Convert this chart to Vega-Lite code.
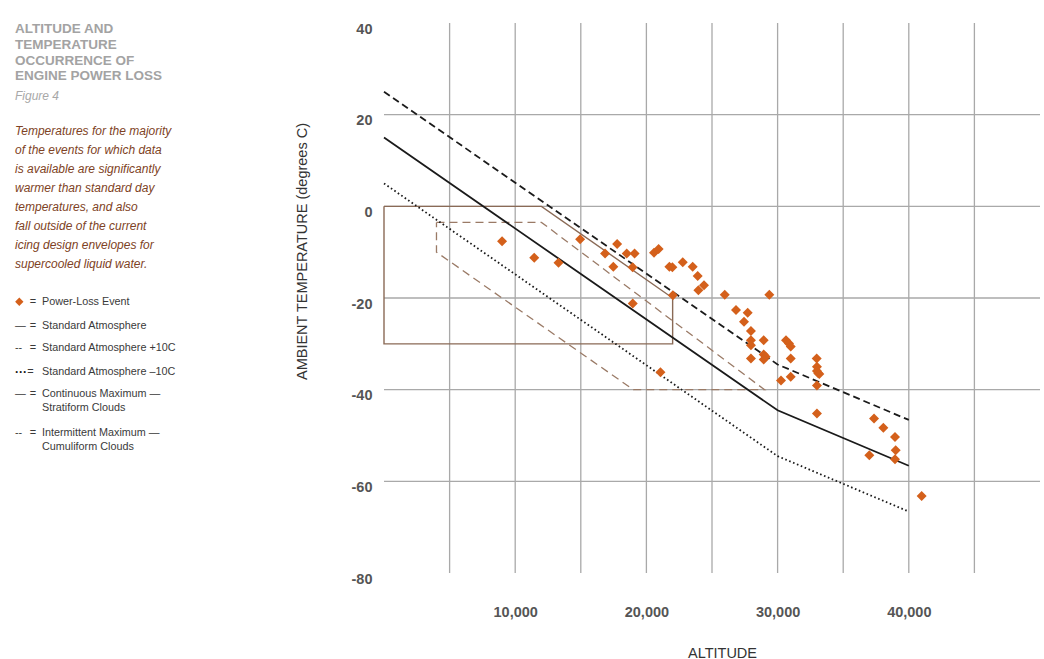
{
  "$schema": "https://vega.github.io/schema/vega-lite/v6.json",
  "background": "white",
  "padding": {"left": 15, "top": 21, "right": 0, "bottom": 0},
  "spacing": 179,
  "bounds": "flush",
  "config": {"view": {"stroke": null}},
  "datasets": {
    "leftText": [
      {"t": "ALTITUDE AND", "x": 0, "y": 6, "k": "title"},
      {"t": "TEMPERATURE", "x": 0, "y": 22, "k": "title"},
      {"t": "OCCURRENCE OF", "x": 0, "y": 37.7, "k": "title"},
      {"t": "ENGINE POWER LOSS", "x": 0, "y": 53, "k": "title"},
      {"t": "Figure 4", "x": 0, "y": 73, "k": "fig"},
      {"t": "Temperatures for the majority", "x": 0, "y": 108, "k": "para"},
      {"t": "of the events for which data", "x": 0, "y": 127, "k": "para"},
      {"t": "is available are significantly", "x": 0, "y": 146, "k": "para"},
      {"t": "warmer than standard day", "x": 0, "y": 165, "k": "para"},
      {"t": "temperatures, and also", "x": 0, "y": 184, "k": "para"},
      {"t": "fall outside of the current", "x": 0, "y": 203, "k": "para"},
      {"t": "icing design envelopes for", "x": 0, "y": 222, "k": "para"},
      {"t": "supercooled liquid water.", "x": 0, "y": 241, "k": "para"},
      {"t": "Power-Loss Event", "x": 27, "y": 278.7, "k": "leg"},
      {"t": "Standard Atmosphere", "x": 27, "y": 302.7, "k": "leg"},
      {"t": "Standard Atmosphere +10C", "x": 27, "y": 325.3, "k": "leg"},
      {"t": "Standard Atmosphere \u201310C", "x": 27, "y": 348.7, "k": "leg"},
      {"t": "Continuous Maximum \u2014", "x": 27, "y": 371.3, "k": "leg"},
      {"t": "Stratiform Clouds", "x": 27, "y": 385.3, "k": "leg"},
      {"t": "Intermittent Maximum \u2014", "x": 27, "y": 410.3, "k": "leg"},
      {"t": "Cumuliform Clouds", "x": 27, "y": 423.7, "k": "leg"},
      {"t": "=", "x": 18, "y": 278.7, "k": "eq"},
      {"t": "=", "x": 18, "y": 302.7, "k": "eq"},
      {"t": "=", "x": 18, "y": 325.3, "k": "eq"},
      {"t": "=", "x": 15.5, "y": 348.7, "k": "eq"},
      {"t": "=", "x": 18, "y": 371.3, "k": "eq"},
      {"t": "=", "x": 18, "y": 410.3, "k": "eq"},
      {"t": "\u2014", "x": 0, "y": 302.7, "k": "sym"},
      {"t": "--", "x": 0, "y": 325.3, "k": "sym"},
      {"t": "\u2014", "x": 0, "y": 371.3, "k": "sym"},
      {"t": "--", "x": 0, "y": 410.3, "k": "sym"},
      {"t": "\u00b7\u00b7\u00b7", "x": 0, "y": 348.7, "k": "dots"}
    ],
    "leftPts": [{"x": 4.3, "y": 278.7}],
    "vgrid": [
      {"alt": 5000, "temp": -80, "temp2": 40},
      {"alt": 10000, "temp": -80, "temp2": 40},
      {"alt": 15000, "temp": -80, "temp2": 40},
      {"alt": 20000, "temp": -80, "temp2": 40},
      {"alt": 25000, "temp": -80, "temp2": 40},
      {"alt": 30000, "temp": -80, "temp2": 40},
      {"alt": 35000, "temp": -80, "temp2": 40},
      {"alt": 40000, "temp": -80, "temp2": 40},
      {"alt": 45000, "temp": -80, "temp2": 40}
    ],
    "hgrid": [
      {"alt": 0, "alt2": 50000, "temp": 20},
      {"alt": 0, "alt2": 50000, "temp": 0},
      {"alt": 0, "alt2": 50000, "temp": -20},
      {"alt": 0, "alt2": 50000, "temp": -40},
      {"alt": 0, "alt2": 50000, "temp": -60}
    ],
    "lines": [
      {"s": "std", "i": 0, "alt": 0, "temp": 15},
      {"s": "std", "i": 1, "alt": 30000, "temp": -44.5},
      {"s": "std", "i": 2, "alt": 40000, "temp": -56.6},
      {"s": "p10", "i": 0, "alt": 0, "temp": 25},
      {"s": "p10", "i": 1, "alt": 30000, "temp": -34.5},
      {"s": "p10", "i": 2, "alt": 40000, "temp": -46.6},
      {"s": "m10", "i": 0, "alt": 0, "temp": 5},
      {"s": "m10", "i": 1, "alt": 30000, "temp": -54.5},
      {"s": "m10", "i": 2, "alt": 40000, "temp": -66.6},
      {"s": "cont", "i": 0, "alt": 0, "temp": 0},
      {"s": "cont", "i": 1, "alt": 12000, "temp": 0},
      {"s": "cont", "i": 2, "alt": 22000, "temp": -20},
      {"s": "cont", "i": 3, "alt": 22000, "temp": -30},
      {"s": "cont", "i": 4, "alt": 0, "temp": -30},
      {"s": "cont", "i": 5, "alt": 0, "temp": 0},
      {"s": "inter", "i": 0, "alt": 4000, "temp": -3.5},
      {"s": "inter", "i": 1, "alt": 12000, "temp": -3.5},
      {"s": "inter", "i": 2, "alt": 29000, "temp": -40},
      {"s": "inter", "i": 3, "alt": 19000, "temp": -40},
      {"s": "inter", "i": 4, "alt": 4000, "temp": -10},
      {"s": "inter", "i": 5, "alt": 4000, "temp": -3.5}
    ],
    "pts": [
      {"alt": 9000, "temp": -7.6},
      {"alt": 11450, "temp": -11.2},
      {"alt": 13300, "temp": -12.3},
      {"alt": 14950, "temp": -7.2},
      {"alt": 16850, "temp": -10.3},
      {"alt": 17770, "temp": -8.2},
      {"alt": 18500, "temp": -10.3},
      {"alt": 19100, "temp": -10.3},
      {"alt": 17480, "temp": -13.2},
      {"alt": 18950, "temp": -13.3},
      {"alt": 20580, "temp": -10.1},
      {"alt": 20930, "temp": -9.3},
      {"alt": 21750, "temp": -13.2},
      {"alt": 21980, "temp": -13.3},
      {"alt": 22770, "temp": -12.2},
      {"alt": 23530, "temp": -13.2},
      {"alt": 23910, "temp": -15.2},
      {"alt": 23960, "temp": -18.3},
      {"alt": 24390, "temp": -17.2},
      {"alt": 22020, "temp": -19.4},
      {"alt": 18960, "temp": -21.2},
      {"alt": 21070, "temp": -36.2},
      {"alt": 25970, "temp": -19.3},
      {"alt": 29370, "temp": -19.3},
      {"alt": 26830, "temp": -22.6},
      {"alt": 27720, "temp": -23.2},
      {"alt": 27440, "temp": -25.2},
      {"alt": 27970, "temp": -27.2},
      {"alt": 27970, "temp": -29.2},
      {"alt": 27970, "temp": -30.3},
      {"alt": 28940, "temp": -29.2},
      {"alt": 27970, "temp": -33.2},
      {"alt": 28940, "temp": -32.3},
      {"alt": 29090, "temp": -32.8},
      {"alt": 28940, "temp": -33.4},
      {"alt": 30640, "temp": -29.2},
      {"alt": 30870, "temp": -29.9},
      {"alt": 31000, "temp": -30.6},
      {"alt": 31000, "temp": -33.2},
      {"alt": 30260, "temp": -38.0},
      {"alt": 31000, "temp": -37.2},
      {"alt": 32980, "temp": -33.2},
      {"alt": 33000, "temp": -35.0},
      {"alt": 33000, "temp": -35.9},
      {"alt": 33100, "temp": -36.4},
      {"alt": 33180, "temp": -36.6},
      {"alt": 33000, "temp": -39.1},
      {"alt": 33000, "temp": -45.2},
      {"alt": 37350, "temp": -46.3},
      {"alt": 38060, "temp": -48.3},
      {"alt": 38950, "temp": -50.3},
      {"alt": 39000, "temp": -53.2},
      {"alt": 38950, "temp": -55.2},
      {"alt": 36990, "temp": -54.3},
      {"alt": 40980, "temp": -63.2}
    ]
  },
  "hconcat": [
    {
      "width": 190,
      "height": 550,
      "encoding": {
        "x": {"field": "x", "type": "quantitative", "scale": {"domain": [0, 190], "nice": false, "zero": false}, "axis": null},
        "y": {"field": "y", "type": "quantitative", "scale": {"domain": [0, 550], "nice": false, "reverse": true}, "axis": null}
      },
      "layer": [
        {
          "data": {"name": "leftText"},
          "transform": [{"filter": "datum.k === 'title'"}],
          "mark": {"type": "text", "align": "left", "baseline": "middle", "font": "Liberation Sans, Arial, sans-serif", "fontSize": 13.5, "fontWeight": "bold", "color": "#a3a3a3"},
          "encoding": {"text": {"field": "t"}}
        },
        {
          "data": {"name": "leftText"},
          "transform": [{"filter": "datum.k === 'fig'"}],
          "mark": {"type": "text", "align": "left", "baseline": "middle", "font": "Liberation Sans, sans-serif", "fontSize": 12, "fontStyle": "italic", "color": "#a8a8a8"},
          "encoding": {"text": {"field": "t"}}
        },
        {
          "data": {"name": "leftText"},
          "transform": [{"filter": "datum.k === 'para'"}],
          "mark": {"type": "text", "align": "left", "baseline": "middle", "font": "Liberation Sans, sans-serif", "fontSize": 12, "fontStyle": "italic", "color": "#7e4224"},
          "encoding": {"text": {"field": "t"}}
        },
        {
          "data": {"name": "leftText"},
          "transform": [{"filter": "datum.k === 'leg' || datum.k === 'sym'"}],
          "mark": {"type": "text", "align": "left", "baseline": "middle", "font": "Liberation Sans, sans-serif", "fontSize": 10.8, "color": "#3a3a3a"},
          "encoding": {"text": {"field": "t"}}
        },
        {
          "data": {"name": "leftText"},
          "transform": [{"filter": "datum.k === 'dots'"}],
          "mark": {"type": "text", "align": "left", "baseline": "middle", "font": "Liberation Sans, sans-serif", "fontSize": 12, "fontWeight": "bold", "color": "#1a1a1a"},
          "encoding": {"text": {"field": "t"}}
        },
        {
          "data": {"name": "leftText"},
          "transform": [{"filter": "datum.k === 'eq'"}],
          "mark": {"type": "text", "align": "center", "baseline": "middle", "font": "Liberation Sans, sans-serif", "fontSize": 11, "color": "#3a3a3a"},
          "encoding": {"text": {"field": "t"}}
        },
        {
          "data": {"name": "leftPts"},
          "mark": {"type": "point", "shape": "diamond", "filled": true, "size": 70, "color": "#d4601b", "opacity": 1}
        }
      ]
    },
    {
      "width": 656,
      "height": 550,
      "encoding": {
        "x": {
          "field": "alt", "type": "quantitative",
          "scale": {"domain": [0, 50000], "nice": false, "zero": false},
          "axis": {"values": [10000, 20000, 30000, 40000], "format": ",.0f", "grid": false, "domain": false, "ticks": false,
            "labelFont": "Liberation Sans, Arial, sans-serif", "labelFontSize": 14.5, "labelFontWeight": "bold", "labelColor": "#555555", "labelPadding": 32,
            "title": "ALTITUDE", "titleFont": "Liberation Sans, sans-serif", "titleFontSize": 14.5, "titleFontWeight": "normal", "titleColor": "#333333", "titlePadding": 28, "titleX": 338}
        },
        "y": {
          "field": "temp", "type": "quantitative",
          "scale": {"domain": [-80, 40], "nice": false, "zero": false},
          "axis": {"values": [40, 20, 0, -20, -40, -60, -80], "labelExpr": "'' + datum.value", "grid": false, "domain": false, "ticks": false,
            "labelFont": "Liberation Sans, Arial, sans-serif", "labelFontSize": 14.5, "labelFontWeight": "bold", "labelColor": "#555555", "labelPadding": 12, "labelOffset": 6,
            "title": "AMBIENT TEMPERATURE (degrees C)", "titleFont": "Liberation Sans, sans-serif", "titleFontSize": 14.5, "titleFontWeight": "normal", "titleColor": "#333333", "titlePadding": 42, "titleY": 228}
        }
      },
      "layer": [
        {
          "data": {"name": "vgrid"},
          "mark": {"type": "rule", "color": "#a9a9a9", "strokeWidth": 1.3},
          "encoding": {"y2": {"field": "temp2"}}
        },
        {
          "data": {"name": "hgrid"},
          "mark": {"type": "rule", "color": "#a9a9a9", "strokeWidth": 1.3},
          "encoding": {"x2": {"field": "alt2"}}
        },
        {
          "data": {"name": "lines"},
          "transform": [{"filter": "datum.s === 'cont'"}],
          "mark": {"type": "line", "color": "#8a6a56", "strokeWidth": 1.4},
          "encoding": {"order": {"field": "i"}}
        },
        {
          "data": {"name": "lines"},
          "transform": [{"filter": "datum.s === 'inter'"}],
          "mark": {"type": "line", "color": "#9a7a66", "strokeWidth": 1.3, "strokeDash": [8, 5]},
          "encoding": {"order": {"field": "i"}}
        },
        {
          "data": {"name": "lines"},
          "transform": [{"filter": "datum.s === 'std'"}],
          "mark": {"type": "line", "color": "#1a1a1a", "strokeWidth": 1.8},
          "encoding": {"order": {"field": "i"}}
        },
        {
          "data": {"name": "lines"},
          "transform": [{"filter": "datum.s === 'p10'"}],
          "mark": {"type": "line", "color": "#1a1a1a", "strokeWidth": 1.8, "strokeDash": [7, 4]},
          "encoding": {"order": {"field": "i"}}
        },
        {
          "data": {"name": "lines"},
          "transform": [{"filter": "datum.s === 'm10'"}],
          "mark": {"type": "line", "color": "#1a1a1a", "strokeWidth": 1.8, "strokeDash": [1.6, 2.6]},
          "encoding": {"order": {"field": "i"}}
        },
        {
          "data": {"name": "pts"},
          "mark": {"type": "point", "shape": "diamond", "filled": true, "size": 100, "color": "#d4601b", "opacity": 1}
        }
      ]
    }
  ]
}
